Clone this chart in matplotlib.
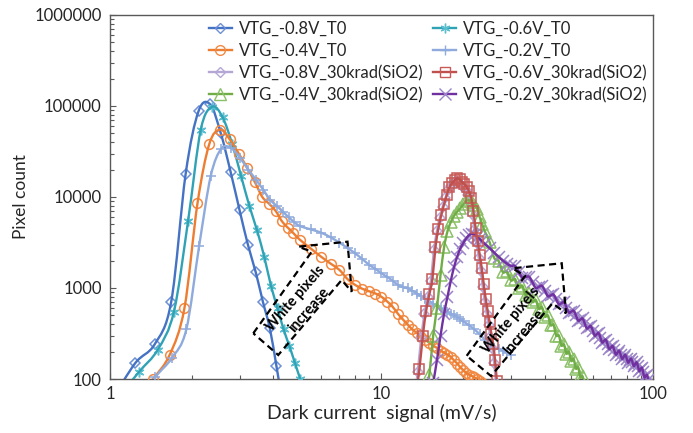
import numpy as np
import matplotlib.pyplot as plt
from matplotlib.path import Path
from matplotlib.patches import PathPatch, Polygon
from matplotlib.lines import Line2D

plt.rcParams['font.family'] = ['Lato', 'DejaVu Sans']

# ---------------- data ----------------
x_08_t0 = [1.02, 1.24, 1.46, 1.68, 1.90, 2.12, 2.34, 2.56, 2.78, 3.00, 3.22, 3.44,
           3.66, 3.88, 4.10, 4.32]
y_08_t0 = [60, 150, 240, 700, 18000, 88000, 104000, 50000, 19000, 7200, 3000, 1500,
           700, 360, 140, 55]

x_06_t0 = [1.06, 1.28, 1.50, 1.72, 1.94, 2.16, 2.38, 2.60, 2.82, 3.04, 3.26, 3.48,
           3.70, 3.92, 4.14, 4.36, 4.58, 4.80, 5.02, 5.24]
y_06_t0 = [60, 120, 210, 550, 5500, 55000, 98000, 75000, 38000, 17000, 8000, 4300,
           2200, 1050, 600, 350, 230, 150, 100, 70]

x_04_t0 = [1.22, 1.44, 1.66, 1.88, 2.10, 2.32, 2.54, 2.76, 2.98, 3.20, 3.42, 3.64,
           3.86, 4.08, 4.30, 4.52, 4.74, 5.0, 5.5, 6.0, 6.5, 7.0, 7.5, 8.0, 8.5, 9.0,
           9.5, 10.0, 10.5, 11.0, 11.5, 12.0, 12.5, 13.0, 13.5, 14.0, 14.5, 15.0, 15.5,
           16.0, 16.5, 17.0, 17.5, 18.0, 18.5, 19.0, 19.5, 20.0, 20.5, 21.0, 21.5,
           22.0, 22.5, 23.0, 23.5]
y_04_t0 = [55, 100, 185, 600, 8500, 38000, 55000, 43000, 30000, 21000, 14500, 10000,
           8400, 7000, 5400, 4600, 4000, 3400, 2700, 2200, 1850, 1580, 1250, 1080, 980,
           920, 870, 800, 710, 620, 520, 450, 395, 350, 320, 290, 270, 250, 232, 220,
           205, 195, 185, 175, 160, 148, 135, 125, 117, 112, 108, 104, 100, 96, 90]

x_02_t0 = [1.25, 1.47, 1.69, 1.91, 2.13, 2.35, 2.57, 2.79, 3.01, 3.23, 3.45, 3.67,
           3.89, 4.11, 4.33, 4.55, 4.77, 5.0, 5.5, 6.0, 6.5, 7.0, 7.5, 8.0, 8.5, 9.0,
           9.5, 10.0, 10.5, 11.0, 11.5, 12.0, 12.5, 13.0, 13.5, 14.0, 14.5, 15.0, 15.5,
           16.0, 16.5, 17.0, 17.5, 18.0, 18.5, 19.0, 19.5, 20.0, 21.0, 22.0, 23.0, 24.0,
           25.0, 26.0, 27.0, 28.0, 29.0, 30.0]
y_02_t0 = [50, 105, 170, 350, 2900, 17000, 34000, 34500, 27000, 20000, 15500, 12000,
           9300, 8000, 6900, 6000, 5300, 4800, 4400, 4050, 3600, 3150, 2750, 2400, 2080,
           1800, 1620, 1450, 1320, 1200, 1080, 1020, 990, 930, 870, 810, 760, 710, 670,
           630, 600, 570, 545, 520, 500, 480, 455, 430, 390, 350, 310, 270, 235, 220,
           215, 205, 195, 185]

x_08_30k = [13.2, 13.6, 14.0, 14.4, 14.8, 15.2, 15.6, 16.0, 16.4, 16.8, 17.2, 17.6,
            18.0, 18.4, 18.8, 19.2, 19.6, 20.0, 20.4, 20.8, 21.2, 21.6, 22.0, 22.4,
            22.8, 23.2, 23.6, 24.0, 24.4, 24.8, 25.2, 25.6, 26.0, 26.4]
y_08_30k = [60, 120, 280, 520, 800, 1200, 2600, 4200, 5900, 7800, 9800, 11800,
            13200, 14200, 14800, 14500, 13600, 12800, 11900, 10600, 9000, 6500, 4300,
            3100, 2150, 1550, 1030, 710, 520, 390, 290, 220, 150, 90]

x_06_30k = [13.4, 13.8, 14.2, 14.6, 15.0, 15.4, 15.8, 16.2, 16.6, 17.0, 17.4, 17.8,
            18.2, 18.6, 19.0, 19.4, 19.8, 20.2, 20.6, 21.0, 21.4, 21.8, 22.2, 22.6,
            23.0, 23.4, 23.8, 24.2, 24.6, 25.0, 25.4, 25.8, 26.2, 26.6]
y_06_30k = [70, 130, 300, 560, 850, 1250, 2800, 4500, 6300, 8300, 10500, 12800,
            14200, 15300, 16000, 15600, 14600, 13800, 12800, 11500, 9800, 7000, 4600,
            3300, 2300, 1650, 1100, 760, 560, 420, 310, 240, 160, 95]

x_04_30k = [14.5, 15.0, 15.5, 16.0, 16.5, 17.0, 17.5, 18.0, 18.5, 19.0, 19.5, 20.0,
            20.5, 21.0, 21.5, 22.0, 22.5, 23.0, 23.5, 24.0, 25, 26, 27, 28, 29, 30, 31,
            32, 33, 34, 35, 36, 37, 38, 39, 40, 41, 42, 43, 44, 45, 46, 47, 48, 49, 50,
            51, 52, 53, 54, 55, 56]
y_04_30k = [60, 110, 300, 600, 1400, 2800, 4200, 5300, 6200, 6900, 7500, 8300, 9000,
            9200, 8800, 8200, 7400, 6000, 5000, 4200, 3210, 2140, 1980, 1490, 1520, 1210,
            1260, 1000, 1060, 840, 880, 700, 740, 590, 615, 485, 500, 390, 395, 300, 300,
            233, 240, 190, 200, 158, 166, 130, 135, 104, 107, 84]

x_02_30k = [15.5, 16.0, 16.5, 17.0, 17.5, 18.0, 18.5, 19.0, 19.5, 20.0, 20.5, 21.0,
            21.5, 22.0, 22.5, 23.0, 23.5, 24, 25, 26, 27, 28, 29, 30, 31, 32, 33, 34,
            35, 36, 37, 38, 39, 40, 41, 42, 43, 44, 45, 46, 47, 48, 49, 50, 51, 52, 53,
            54, 55, 56, 57, 58, 59, 60, 61, 62, 63, 64, 65, 66, 67, 68, 69, 70, 71, 72,
            73, 74, 75, 76, 77, 78, 79, 80, 81, 82, 83, 84, 85, 86, 87, 88, 89, 90, 91,
            92, 93, 94, 95, 96]
y_02_30k = [90, 160, 300, 520, 800, 1200, 1700, 2200, 2700, 3100, 3500, 3800, 3950,
            3850, 3650, 3450, 3250, 3050, 2750, 2450, 2200, 2000, 1850, 1750, 1750, 1500,
            1300, 1320, 1330, 1150, 1000, 1030, 1060, 930, 810, 830, 850, 750, 660, 680,
            700, 610, 535, 550, 565, 500, 437, 450, 464, 410, 359, 370, 383, 340, 299,
            310, 321, 285, 251, 262, 271, 240, 213, 222, 231, 207, 185, 195, 205, 185,
            166, 175, 185, 168, 151, 160, 168, 153, 138, 146, 153, 138, 122, 128, 133,
            118, 104, 108, 111, 98]

x_ticks = [1, 10, 100]
x_tick_labels = ['1', '10', '100']
y_ticks = [100, 1000, 10000, 100000, 1000000]
y_tick_labels = ['100', '1000', '10000', '100000', '1000000']

# label, x, y, line colour, marker, marker colour, marker size
series = [
    ('VTG_-0.8V_T0', x_08_t0, y_08_t0, '#4472C4', 'D', '#6D8FD3', 5.5),
    ('VTG_-0.6V_T0', x_06_t0, y_06_t0, '#2FA3B5', (6, 2, 0), '#5CBFD0', 7),
    ('VTG_-0.4V_T0', x_04_t0, y_04_t0, '#ED7D31', 'o', '#F08A45', 7),
    ('VTG_-0.2V_T0', x_02_t0, y_02_t0, '#8FAADC', '+', '#8FAADC', 7),
    ('VTG_-0.8V_30krad(SiO2)', x_08_30k, y_08_30k, '#B4A7D6', 'D', '#B4A7D6', 5.5),
    ('VTG_-0.4V_30krad(SiO2)', x_04_30k, y_04_30k, '#70AD47', '^', '#8CC068', 8),
    ('VTG_-0.2V_30krad(SiO2)', x_02_30k, y_02_30k, '#7030A0', 'x', '#9C84C8', 8),
    ('VTG_-0.6V_30krad(SiO2)', x_06_30k, y_06_30k, '#C0504D', 's', '#C85A57', 7),
]
legend_order = ['VTG_-0.8V_T0', 'VTG_-0.4V_T0', 'VTG_-0.8V_30krad(SiO2)',
                'VTG_-0.4V_30krad(SiO2)', 'VTG_-0.6V_T0', 'VTG_-0.2V_T0',
                'VTG_-0.6V_30krad(SiO2)', 'VTG_-0.2V_30krad(SiO2)']


def smooth_line(ax, x, y, color, z):
    # Excel-style smoothed line: Catmull-Rom through the points, in log-log space
    p = np.column_stack([np.log10(x), np.log10(y)])
    n = len(p)
    verts = [p[0]]
    codes = [Path.MOVETO]
    for i in range(n - 1):
        p0 = p[i - 1] if i > 0 else p[i]
        p3 = p[i + 2] if i + 2 < n else p[i + 1]
        verts += [p[i] + (p[i + 1] - p0) / 6, p[i + 1] - (p3 - p[i]) / 6, p[i + 1]]
        codes += [Path.CURVE4] * 3
    path = Path(10 ** np.array(verts), codes)
    ax.add_patch(PathPatch(path, fill=False, edgecolor=color, lw=1.7, zorder=z,
                           joinstyle='round', capstyle='round'))


fig = plt.figure(figsize=(6.93, 4.33), dpi=100)
ax = fig.add_axes([0.1587, 0.1247, 0.7836, 0.8407])
ax.set_xscale('log')
ax.set_yscale('log')
ax.set_xlim(1, 100)
ax.set_ylim(100, 1000000)

handles = {}
for k, (label, xs, ys, lc, mk, mc, ms) in enumerate(series):
    z = 2 + k
    ax.plot(xs, ys, ls='none', marker=mk, mfc='none', mec=mc, ms=ms, mew=1.1,
            zorder=z)
    smooth_line(ax, xs, ys, lc, z + 0.5)
    handles[label] = Line2D([], [], color=lc, lw=1.7, marker=mk, mfc='none', mec=mc,
                            ms=ms, mew=1.0)

ax.legend([handles[l] for l in legend_order], legend_order, ncol=2, frameon=False,
          loc='upper left', bbox_to_anchor=(0.160, 1.015), fontsize=12,
          handlelength=1.4, handletextpad=0.4, columnspacing=0.6, labelspacing=0.35,
          borderpad=0.2, labelcolor='#262626')

ax.set_xticks(x_ticks)
ax.set_xticklabels(x_tick_labels)
ax.set_yticks(y_ticks)
ax.set_yticklabels(y_tick_labels)
ax.tick_params(which='both', direction='in', colors='#595959', labelcolor='#262626',
               labelsize=12)
ax.tick_params(which='major', length=4, width=0.8)
ax.tick_params(which='minor', length=3, width=0.8)
ax.tick_params(axis='y', pad=6)
ax.tick_params(axis='x', pad=5)
for s in ax.spines.values():
    s.set_color('#595959')
    s.set_linewidth(1.0)

ax.set_xlabel('Dark current  signal (mV/s)', fontsize=14, color='#262626')
ax.set_ylabel('Pixel count', fontsize=12.5, color='#262626')
ax.xaxis.set_label_coords(0.5, -0.068)
ax.yaxis.set_label_coords(-0.15, 0.5)

# dashed block arrows with the "White pixels increase" note (axes fraction coords)
arrow1 = [(0.2639, 0.1256), (0.3715, 0.3497), (0.3468, 0.3635), (0.4374, 0.3772),
          (0.4451, 0.2398), (0.4267, 0.2720), (0.3099, 0.0659)]
arrow2 = [(0.6569, 0.0637), (0.7643, 0.2830), (0.7413, 0.3041), (0.8319, 0.3179),
          (0.8398, 0.1805), (0.8149, 0.2080), (0.7017, 0.0082)]
for pts in (arrow1, arrow2):
    ax.add_patch(Polygon(pts, closed=True, fill=False, edgecolor='black', lw=1.6,
                         ls=(0, (3.2, 2)), transform=ax.transAxes, zorder=20))
ax.text(0.3545, 0.206, 'White pixels\nincrease', transform=ax.transAxes, rotation=49,
        ha='center', va='center', rotation_mode='anchor', fontsize=10.5,
        fontweight='bold', linespacing=1.35, zorder=21)
ax.text(0.7505, 0.1456, 'White pixels\nIncrease', transform=ax.transAxes, rotation=50,
        ha='center', va='center', rotation_mode='anchor', fontsize=10.5,
        fontweight='bold', linespacing=1.35, zorder=21)

fig.savefig('out.png', dpi=100)
